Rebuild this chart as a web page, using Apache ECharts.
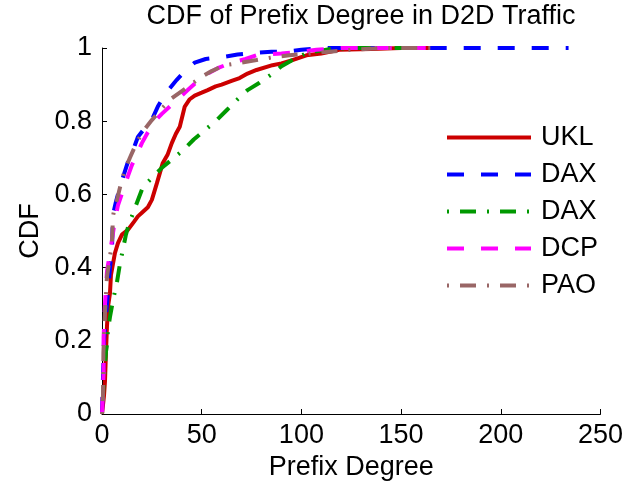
<!DOCTYPE html>
<html>
<head>
<meta charset="utf-8">
<script src="https://cdn.jsdelivr.net/npm/echarts@6/dist/echarts.min.js"></script>
<style>
  html, body { margin: 0; padding: 0; background: #fff; }
  #chart { width: 626px; height: 490px; }
</style>
</head>
<body>
<div id="chart"></div>
<script>
// Empirical CDF samples: [prefix degree, cumulative fraction]
var ukl = [[0,0],[1,0.05],[1.5,0.09],[2,0.17],[2.5,0.24],[3.2,0.3],[4,0.33],[4.5,0.38],[5.5,0.41],[6.5,0.44],[8,0.467],[10,0.49],[13,0.503],[16,0.525],[18,0.54],[20,0.55],[23,0.565],[25,0.585],[27.5,0.63],[30.5,0.686],[33,0.71],[35,0.74],[37,0.765],[39,0.785],[41.5,0.84],[44,0.86],[46.5,0.87],[50,0.878],[53,0.885],[57,0.895],[60,0.9],[65,0.91],[69,0.918],[73,0.93],[77.5,0.94],[85.5,0.953],[90,0.958],[95.5,0.967],[102.5,0.98],[110,0.985],[119,0.995],[135,0.997],[150,1],[165,1]];
var daxA = [[0,0],[0.5,0.1],[1,0.2],[2.5,0.3],[4,0.4],[5,0.45],[5.5,0.544],[7,0.58],[9,0.62],[11,0.655],[13,0.689],[15.5,0.72],[18,0.757],[22,0.785],[25.5,0.81],[28,0.84],[30.5,0.863],[34,0.89],[37.5,0.913],[42,0.94],[46.5,0.96],[52,0.97],[60,0.975],[68,0.982],[75,0.986],[85,0.99],[92.5,0.99],[100,0.995],[110,1],[234,1]];
var daxB = [[0,0],[1,0.1],[2,0.17],[2.5,0.19],[3,0.23],[4,0.265],[5.5,0.31],[7.5,0.36],[9,0.41],[10.5,0.45],[12,0.49],[13.5,0.52],[15,0.54],[17,0.57],[20.5,0.62],[25,0.645],[30.5,0.675],[35,0.695],[40.5,0.72],[46,0.75],[52.5,0.78],[57,0.8],[62.5,0.83],[68,0.86],[73,0.885],[79,0.905],[85.5,0.93],[90,0.95],[95.5,0.967],[102.5,0.986],[114,0.997],[125,1],[165,1]];
var dcp = [[0,0],[0.8,0.11],[0.8,0.21],[1.5,0.3],[2.5,0.39],[4,0.44],[6.5,0.53],[8,0.57],[10.5,0.61],[13,0.65],[15,0.68],[17.5,0.71],[20,0.74],[23,0.77],[26.5,0.8],[30,0.82],[34,0.84],[38,0.86],[43,0.885],[48,0.91],[53,0.93],[58,0.945],[65,0.96],[72,0.97],[77.5,0.98],[90,0.985],[100,0.99],[107.5,0.995],[120,1],[165,1]];
var pao = [[0,0],[0.5,0.05],[0.7,0.167],[1.5,0.276],[2.5,0.375],[4,0.43],[5,0.467],[5.5,0.54],[6.5,0.57],[7.5,0.585],[9.5,0.63],[11.5,0.667],[14,0.7],[17.5,0.743],[21,0.775],[25,0.803],[30,0.835],[35,0.863],[42,0.89],[49,0.918],[55,0.937],[61.5,0.953],[70,0.96],[77.5,0.967],[86,0.975],[94,0.98],[104,0.985],[114,0.99],[125,0.995],[140,1],[165,1]];

var seriesKeys = ['ukl', 'daxA', 'daxB', 'dcp', 'pao'];
var seriesLabels = ['UKL', 'DAX', 'DAX', 'DCP', 'PAO'];
var xTicks = [0, 50, 100, 150, 200, 250];
var yTicks = [0, 0.2, 0.4, 0.6, 0.8, 1];

var FONT = 'Liberation Sans, Arial, sans-serif';
var FS = 27;
var LW = 4;
var dashed = [17, 17];
var dashDot = [2, 11, 16, 11];

var styles = {
  ukl:  { color: '#cc0000', type: 'solid' },
  daxA: { color: '#0000ff', type: dashed },
  daxB: { color: '#009900', type: dashDot },
  dcp:  { color: '#ff00ff', type: dashed },
  pao:  { color: '#996666', type: dashDot }
};
var dataByKey = { ukl: ukl, daxA: daxA, daxB: daxB, dcp: dcp, pao: pao };

var chart = echarts.init(document.getElementById('chart'), null, { renderer: 'canvas' });

var series = seriesKeys.map(function (k) {
  return {
    name: k,
    type: 'line',
    data: dataByKey[k],
    showSymbol: false,
    symbol: 'none',
    smooth: false,
    lineStyle: { color: styles[k].color, width: LW, type: styles[k].type, cap: 'butt' },
    itemStyle: { color: styles[k].color },
    emphasis: { disabled: true }
  };
});

chart.setOption({
  animation: false,
  backgroundColor: '#ffffff',
  title: {
    text: 'CDF of Prefix Degree in D2D Traffic',
    left: 356,
    top: -2,
    textAlign: 'center',
    textStyle: { fontFamily: FONT, fontSize: FS, fontWeight: 'normal', color: '#000' }
  },
  grid: { left: 102, right: 24, top: 48, bottom: 76, containLabel: false },
  legend: {
    orient: 'vertical',
    left: 440,
    top: 119,
    itemWidth: 84,
    itemHeight: 14,
    itemGap: 10,
    data: seriesKeys,
    formatter: function (name) { return seriesLabels[seriesKeys.indexOf(name)]; },
    itemStyle: { color: 'rgba(0,0,0,0)', borderColor: 'rgba(0,0,0,0)', borderWidth: 0 },
    lineStyle: { width: LW },
    textStyle: { fontFamily: FONT, fontSize: FS, color: '#000', padding: [0, 0, 0, 5] }
  },
  xAxis: {
    type: 'value',
    min: xTicks[0],
    max: xTicks[xTicks.length - 1],
    interval: 50,
    name: 'Prefix Degree',
    nameLocation: 'middle',
    nameGap: 38,
    nameTextStyle: { fontFamily: FONT, fontSize: FS, color: '#000' },
    axisLine: { show: true, onZero: false, lineStyle: { color: '#000', width: 1 } },
    axisTick: { show: true, inside: true, length: 5, lineStyle: { color: '#000' } },
    axisLabel: { fontFamily: FONT, fontSize: FS, color: '#000', margin: 8 },
    splitLine: { show: false }
  },
  yAxis: {
    type: 'value',
    min: yTicks[0],
    max: yTicks[yTicks.length - 1],
    interval: 0.2,
    name: 'CDF',
    nameLocation: 'middle',
    nameGap: 58,
    nameRotate: 90,
    nameTextStyle: { fontFamily: FONT, fontSize: FS, color: '#000' },
    axisLine: { show: true, onZero: false, lineStyle: { color: '#000', width: 1 } },
    axisTick: { show: true, inside: true, length: 5, lineStyle: { color: '#000' } },
    axisLabel: {
      fontFamily: FONT, fontSize: FS, color: '#000', margin: 10,
      formatter: function (v) { return String(Math.round(v * 10) / 10); }
    },
    splitLine: { show: false }
  },
  series: series
});
</script>
</body>
</html>
